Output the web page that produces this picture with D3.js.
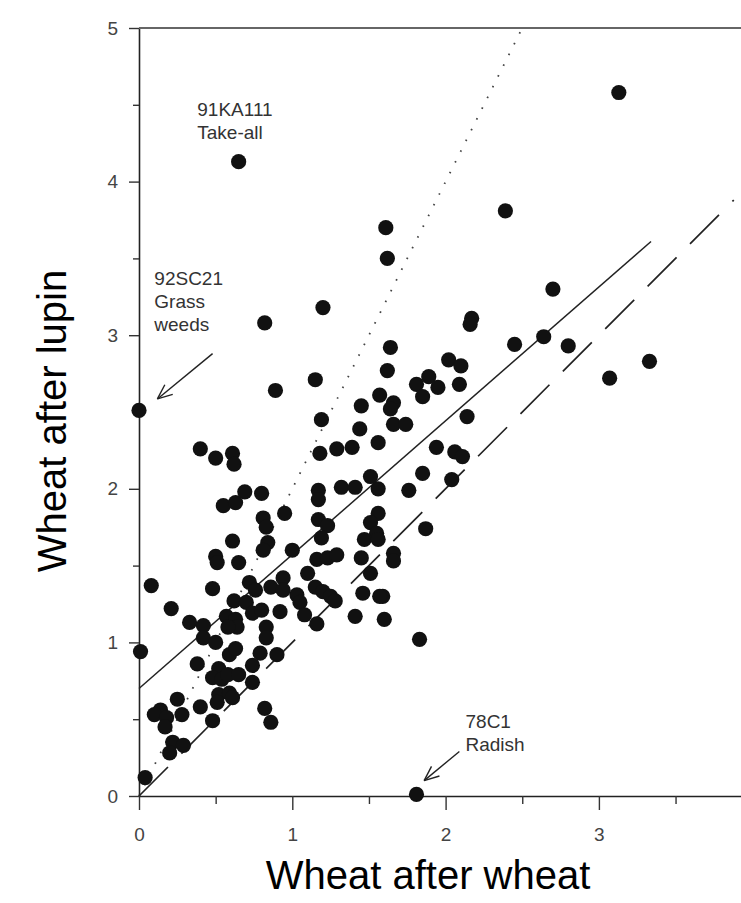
<!DOCTYPE html>
<html>
<head>
  <meta charset="utf-8">
  <script src="https://cdn.jsdelivr.net/npm/d3@7"></script>
  <style>
    body { margin: 0; background: #fff; }
    svg { display: block; font-family: "Liberation Sans", Arial, sans-serif; }
    .tick text { fill: #444; font-size: 19px; }
    .note { fill: #333; font-size: 19px; }
    .title { fill: #000; font-size: 40px; }
  </style>
</head>
<body>
  <div id="chart-area"></div>
  <script>
    // yields: wheat after wheat (x) vs wheat after lupin (y)
    const wheatAfterWheat = [
      0.65, 1.61, 1.62, 3.13, 2.39, 2.70, 2.17, 2.16, 1.64, 2.45, 2.64, 2.80, 3.33, 3.07,
      1.62, 2.02, 2.10, 1.81, 1.89, 1.95, 1.85, 2.09, 1.57, 1.66, 1.64, 1.66, 1.74, 2.14,
      1.56, 1.94, 2.06, 2.11, 1.85, 2.04, 1.56, 1.76, 1.56, 1.51, 1.55, 1.47, 1.56, 1.87,
      1.66, 1.66, 1.59, 1.60, 1.83, 1.81, 1.15, 1.45, 1.19, 1.44, 1.18, 1.29, 1.39, 1.51,
      1.32, 1.41, 1.17, 1.17, 1.17, 1.23, 1.19, 1.00, 1.16, 1.23, 1.29, 1.45, 1.10, 1.51,
      1.15, 1.20, 1.25, 1.28, 1.03, 1.05, 1.46, 1.57, 1.08, 1.16, 1.41, 1.20, 0.82, 0.00,
      0.89, 0.40, 0.50, 0.61, 0.62, 0.69, 0.80, 0.55, 0.63, 0.95, 0.81, 0.83, 0.61, 0.84,
      0.81, 0.50, 0.51, 0.65, 0.08, 0.48, 0.72, 0.76, 0.86, 0.94, 0.94, 0.62, 0.70, 0.21,
      0.33, 0.42, 0.57, 0.63, 0.64, 0.58, 0.74, 0.80, 0.92, 0.83, 0.01, 0.42, 0.50, 0.83,
      0.59, 0.63, 0.79, 0.90, 0.38, 0.52, 0.48, 0.54, 0.58, 0.65, 0.74, 0.74, 0.25, 0.14,
      0.10, 0.18, 0.17, 0.28, 0.40, 0.52, 0.59, 0.51, 0.61, 0.48, 0.82, 0.86, 0.22, 0.29,
      0.20, 0.04
    ];
    const wheatAfterLupin = [
      4.13, 3.70, 3.50, 4.58, 3.81, 3.30, 3.11, 3.07, 2.92, 2.94, 2.99, 2.93, 2.83, 2.72,
      2.77, 2.84, 2.80, 2.68, 2.73, 2.66, 2.60, 2.68, 2.61, 2.56, 2.52, 2.42, 2.42, 2.47,
      2.30, 2.27, 2.24, 2.21, 2.10, 2.06, 2.00, 1.99, 1.84, 1.78, 1.71, 1.67, 1.67, 1.74,
      1.58, 1.53, 1.30, 1.15, 1.02, 0.01, 2.71, 2.54, 2.45, 2.39, 2.23, 2.26, 2.27, 2.08,
      2.01, 2.01, 1.99, 1.93, 1.80, 1.76, 1.68, 1.60, 1.54, 1.55, 1.57, 1.55, 1.45, 1.45,
      1.36, 1.33, 1.30, 1.27, 1.31, 1.26, 1.32, 1.30, 1.18, 1.12, 1.17, 3.18, 3.08, 2.51,
      2.64, 2.26, 2.20, 2.23, 2.16, 1.98, 1.97, 1.89, 1.91, 1.84, 1.81, 1.75, 1.66, 1.65,
      1.60, 1.56, 1.52, 1.52, 1.37, 1.35, 1.39, 1.34, 1.36, 1.42, 1.34, 1.27, 1.26, 1.22,
      1.13, 1.11, 1.17, 1.15, 1.10, 1.10, 1.19, 1.21, 1.20, 1.10, 0.94, 1.03, 1.00, 1.03,
      0.92, 0.96, 0.93, 0.92, 0.86, 0.83, 0.77, 0.76, 0.79, 0.79, 0.85, 0.74, 0.63, 0.56,
      0.53, 0.51, 0.45, 0.53, 0.58, 0.66, 0.67, 0.61, 0.64, 0.49, 0.57, 0.48, 0.35, 0.33,
      0.28, 0.12
    ];

    const xTicks = [0, 1, 2, 3];
    const xMinorTicks = [0.5, 1.5, 2.5, 3.5];
    const yTicks = [0, 1, 2, 3, 4, 5];
    const yMinorTicks = [0.5, 1.5, 2.5, 3.5, 4.5];

    // reference lines, end points in data units
    const fitLine = [[0, 0.70], [3.34, 3.61]];
    const oneToOneLine = [[0, 0], [3.88, 3.88]];
    const twoToOneLine = [[0, 0], [2.5, 5]];

    const noteLabels = [["91KA111", "Take-all"], ["92SC21", "Grass", "weeds"], ["78C1", "Radish"]];
    const noteAnchors = [[0.38, 4.43], [0.10, 3.33], [2.13, 0.44]];
    const arrowFrom = [[0.48, 2.88], [2.09, 0.29]];
    const arrowTo = [[0.12, 2.585], [1.86, 0.10]];

    const width = 741;
    const height = 903;

    const x = d3.scaleLinear().domain([0, 4]).range([139, 139 + 4 * 153.3]);
    const y = d3.scaleLinear().domain([0, 5]).range([796, 28]);

    const svg = d3.select("#chart-area")
      .append("svg")
        .attr("width", width)
        .attr("height", height);

    // axes
    svg.append("g")
        .attr("transform", `translate(${x(0)},0)`)
        .call(d3.axisLeft(y).tickValues(yTicks).tickSize(10).tickSizeOuter(0)
          .tickPadding(11).tickFormat(d3.format("d")));
    svg.append("g")
        .attr("transform", `translate(${x(0)},0)`)
        .call(d3.axisLeft(y).tickValues(yMinorTicks).tickSize(6).tickFormat(""))
        .select(".domain").remove();

    svg.append("g")
        .attr("transform", `translate(0,${y(0)})`)
        .call(d3.axisBottom(x).tickValues(xTicks).tickSize(14).tickSizeOuter(0)
          .tickPadding(18).tickFormat(d3.format("d")));
    svg.append("g")
        .attr("transform", `translate(0,${y(0)})`)
        .call(d3.axisBottom(x).tickValues(xMinorTicks).tickSize(8).tickFormat(""))
        .select(".domain").remove();

    svg.selectAll(".domain").attr("stroke", "#222").attr("stroke-width", 1.6);
    svg.selectAll(".tick line").attr("stroke", "#333").attr("stroke-width", 1.4);

    // top frame line at y = 5
    svg.append("line")
        .attr("x1", x(0)).attr("x2", width)
        .attr("y1", y(5)).attr("y2", y(5))
        .attr("stroke", "#666").attr("stroke-width", 2.2);

    const line = d3.line().x(d => x(d[0])).y(d => y(d[1]));

    svg.append("path").datum(twoToOneLine)
        .attr("d", line)
        .attr("fill", "none")
        .attr("stroke", "#444")
        .attr("stroke-width", 1.8)
        .attr("stroke-dasharray", "1.6 10.4");

    svg.append("path").datum(oneToOneLine)
        .attr("d", line)
        .attr("fill", "none")
        .attr("stroke", "#222")
        .attr("stroke-width", 1.7)
        .attr("stroke-dasharray", "41 19");

    svg.append("path").datum(fitLine)
        .attr("d", line)
        .attr("fill", "none")
        .attr("stroke", "#222")
        .attr("stroke-width", 1.5);

    // points
    svg.append("g")
      .selectAll("circle")
      .data(wheatAfterWheat)
      .join("circle")
        .attr("cx", d => x(d))
        .attr("cy", (d, i) => y(wheatAfterLupin[i]))
        .attr("r", 7.6)
        .attr("fill", "#111");

    // annotations
    noteLabels.forEach((lines, i) => {
      const t = svg.append("text")
          .attr("class", "note")
          .attr("x", x(noteAnchors[i][0]))
          .attr("y", y(noteAnchors[i][1]));
      lines.forEach((s, j) => {
        t.append("tspan")
            .attr("x", x(noteAnchors[i][0]))
            .attr("dy", j === 0 ? 0 : 23)
            .text(s);
      });
    });

    arrowFrom.forEach((p, i) => {
      const x1 = x(p[0]), y1 = y(p[1]);
      const x2 = x(arrowTo[i][0]), y2 = y(arrowTo[i][1]);
      const ang = Math.atan2(y1 - y2, x1 - x2);
      const g = svg.append("g").attr("stroke", "#222").attr("stroke-width", 1.4).attr("fill", "none");
      g.append("line").attr("x1", x1).attr("y1", y1).attr("x2", x2).attr("y2", y2);
      [-0.4, 0.4].forEach(da => {
        g.append("line")
            .attr("x1", x2).attr("y1", y2)
            .attr("x2", x2 + 16 * Math.cos(ang + da))
            .attr("y2", y2 + 16 * Math.sin(ang + da));
      });
    });

    // axis titles
    svg.append("text")
        .attr("class", "title")
        .attr("text-anchor", "middle")
        .attr("x", 428)
        .attr("y", 889)
        .text("Wheat after wheat");

    svg.append("text")
        .attr("class", "title")
        .attr("text-anchor", "middle")
        .attr("font-size", "43px")
        .attr("transform", "translate(66,421) rotate(-90)")
        .text("Wheat after lupin");
  </script>
</body>
</html>
